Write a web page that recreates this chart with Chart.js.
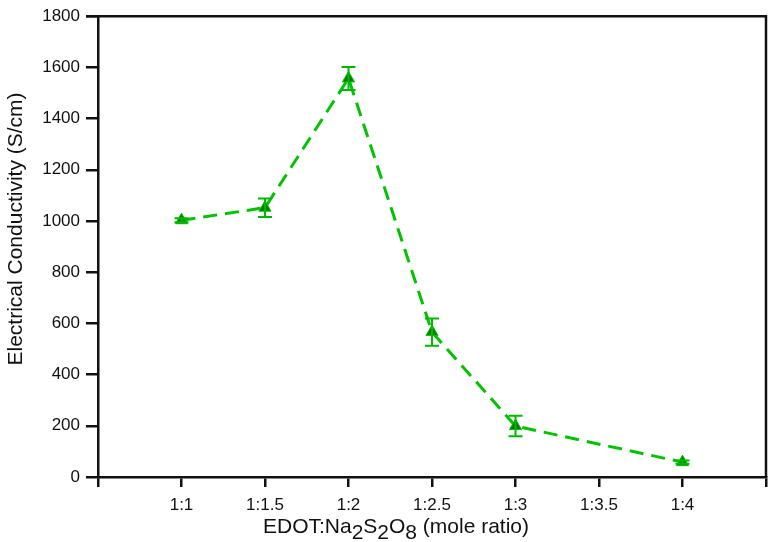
<!DOCTYPE html>
<html>
<head>
<meta charset="utf-8">
<script src="https://cdn.jsdelivr.net/npm/chart.js@4/dist/chart.umd.min.js"></script>
<style>
  html, body { margin: 0; padding: 0; background: #fff; }
  #wrap { width: 774px; height: 542px; }
</style>
</head>
<body>
<div id="wrap"><canvas id="c" width="774" height="542"></canvas></div>
<script>
// x-axis slots (first and last are blank tick positions)
const categories = ['', '1:1', '1:1.5', '1:2', '1:2.5', '1:3', '1:3.5', '1:4', ''];
// Electrical conductivity (S/cm); null = no measurement
const conductivity = [null, 1003, 1052, 1557, 566, 199, null, 58, null];
// +/- error
const conductivityError = [null, 8, 36, 45, 53, 40, null, 6, null];
const yTicks = [0, 200, 400, 600, 800, 1000, 1200, 1400, 1600, 1800];

const FONT = '"Liberation Sans", Arial, sans-serif';

const errorBars = {
  id: 'errorBars',
  afterDatasetsDraw(chart) {
    const ctx = chart.ctx;
    const x = chart.scales.x, y = chart.scales.y;
    ctx.save();
    ctx.strokeStyle = '#00b800';
    ctx.lineWidth = 2;
    conductivity.forEach((v, i) => {
      const e = conductivityError[i];
      if (v === null || !e) return;
      const px = x.getPixelForValue(i);
      const top = y.getPixelForValue(v + e);
      const bot = y.getPixelForValue(v - e);
      ctx.beginPath();
      ctx.moveTo(px, top); ctx.lineTo(px, bot);
      ctx.moveTo(px - 7, top); ctx.lineTo(px + 7, top);
      ctx.moveTo(px - 7, bot); ctx.lineTo(px + 7, bot);
      ctx.stroke();
    });
    ctx.restore();
  }
};

const frame = {
  id: 'frame',
  afterDraw(chart) {
    const a = chart.chartArea, ctx = chart.ctx;
    ctx.save();
    ctx.strokeStyle = '#111';
    ctx.lineWidth = 2.5;
    ctx.beginPath();
    ctx.moveTo(a.left - 12, a.top);
    ctx.lineTo(a.right, a.top);
    ctx.lineTo(a.right, a.bottom);
    ctx.stroke();
    ctx.fillStyle = '#111';
    // y-axis title
    ctx.save();
    ctx.font = '21px ' + FONT;
    ctx.translate(22, 229);
    ctx.rotate(-Math.PI / 2);
    ctx.textAlign = 'center';
    ctx.textBaseline = 'alphabetic';
    ctx.fillText('Electrical Conductivity (S/cm)', 0, 0);
    ctx.restore();
    // x-axis title with subscripts
    const parts = [
      ['EDOT:Na', 0], ['2', 1], ['S', 0], ['2', 1], ['O', 0], ['8', 1], [' (mole ratio)', 0]
    ];
    ctx.font = '21px ' + FONT;
    ctx.textBaseline = 'alphabetic';
    ctx.textAlign = 'left';
    let total = 0;
    parts.forEach(p => total += ctx.measureText(p[0]).width);
    let cx = 396 - total / 2;
    const base = 533;
    parts.forEach(p => {
      ctx.fillText(p[0], cx, base + (p[1] ? 6 : 0));
      cx += ctx.measureText(p[0]).width;
    });
    ctx.restore();
  }
};

new Chart(document.getElementById('c'), {
  type: 'line',
  data: {
    labels: categories,
    datasets: [{
      data: conductivity,
      spanGaps: true,
      borderColor: '#00c400',
      borderWidth: 3,
      borderDash: [14, 8],
      tension: 0,
      pointStyle: 'triangle',
      pointRadius: 7,
      pointBackgroundColor: '#007d00',
      pointBorderColor: '#00c000',
      pointBorderWidth: 1
    }]
  },
  options: {
    responsive: false,
    animation: false,
    layout: { padding: { top: 12, right: 6, left: 0, bottom: 0 } },
    plugins: { legend: { display: false }, tooltip: { enabled: false } },
    scales: {
      x: {
        type: 'category',
        offset: false,
        grid: { display: true, drawOnChartArea: false, drawTicks: true, tickLength: 10, color: '#111', lineWidth: 2.5 },
        border: { display: true, color: '#111', width: 2.5 },
        ticks: { color: '#111', font: { family: FONT, size: 17 }, padding: 8, maxRotation: 0, autoSkip: false },
        afterFit(s) { s.height = 65; }
      },
      y: {
        min: 0, max: 1800,
        afterBuildTicks(s) { s.ticks = yTicks.map(v => ({ value: v })); },
        grid: { display: true, drawOnChartArea: false, drawTicks: true, tickLength: 12, color: '#111', lineWidth: 2.5 },
        border: { display: true, color: '#111', width: 2.5 },
        ticks: { color: '#111', font: { family: FONT, size: 17 }, padding: 6, callback: v => String(v) },
        title: { display: false },
        afterFit(s) { s.width = 98; }
      }
    }
  },
  plugins: [errorBars, frame]
});
</script>
</body>
</html>
